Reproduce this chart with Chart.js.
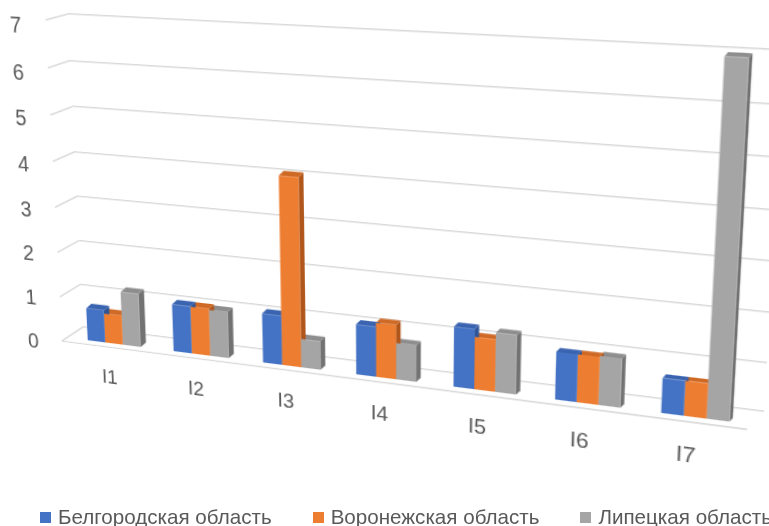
<!DOCTYPE html>
<html>
<head>
<meta charset="utf-8">
<script src="https://cdn.jsdelivr.net/npm/chart.js@4.4.1/dist/chart.umd.min.js"></script>
<style>
  html, body { margin: 0; padding: 0; background: #fff; }
  #stage { position: relative; width: 769px; height: 526px; overflow: hidden; background: #fff;
           font-family: "Liberation Sans", Arial, sans-serif; }
  .layer { position: absolute; left: 0; top: 0; transform-origin: 0 0; }
  #legend { position: absolute; left: 40px; top: 504px; display: flex; white-space: nowrap;
            color: #595959; font-size: 20.6px; line-height: 26px; }
  #legend .item { display: flex; align-items: center; margin-right: 41px; }
  #legend .box { width: 11px; height: 11px; margin-right: 7px; }
</style>
</head>
<body>
<div id="stage">
  <canvas id="wall" class="layer" width="760" height="390"></canvas>
  <canvas id="bars" class="layer" width="713" height="410"></canvas>
  <div id="legend"></div>
</div>
<script>
// ---- data ----
const categories = ['I1', 'I2', 'I3', 'I4', 'I5', 'I6', 'I7'];
const seriesNames = ['Белгородская область', 'Воронежская область', 'Липецкая область'];
const belgorod = [0.73, 1.05, 1.08, 1.08, 1.27, 0.99, 0.71];
const voronezh = [0.66, 1.04, 4.05, 1.16, 1.10, 0.99, 0.71];
const lipetsk  = [1.19, 1.02, 0.62, 0.78, 1.24, 1.01, 6.95];
const yTicks = [0, 1, 2, 3, 4, 5, 6, 7];

// ---- styling ----
const frontColors = ['#4472C4', '#ED7D31', '#A5A5A5'];
const topColors   = ['#3A64B0', '#CF6A26', '#8E8E8E'];
const sideColors  = ['#2F5597', '#B0561B', '#727272'];
const textColor = '#595959';
const gridColor = '#D9D9D9';
Chart.defaults.font.family = '"Liberation Sans", Arial, sans-serif';

// ---- perspective view of the 3-D box ----
// Each vertical plane (back wall, bar fronts, floor front edge) is described by
// its bottom line (category position u -> screen) and its vertical foreshortening.
const VP = { x: 392, y: 6725 };           // vanishing point of the vertical edges
const planes = {
  wall:  { p: 83,   q: 82.19, r: -0.01977, xA: 83, yA: 327, slope: 0.124,  w: -0.006663 },
  bars:  { p: 71.8, q: 82.14, r: -0.01976, xA: 85, yA: 340, slope: 0.1268, w: -0.0068 },
  front: { p: 62,   q: 83.09, r: -0.01977, xA: 62, yA: 341, slope: 0.129,  w: -0.00684 }
};
function project(pl, u, h) {
  const d = 1 + pl.r * u;
  const x0 = (pl.p + pl.q * u) / d;
  const y0 = pl.yA + pl.slope * (x0 - pl.xA);
  const c = pl.w / d;
  const y = (y0 + c * VP.y * h) / (1 + c * h);
  const x = x0 + (y - y0) * (VP.x - x0) / (VP.y - y0);
  return { x, y };
}

function solveLinear(A, b) {
  const n = b.length;
  const M = A.map((row, i) => row.concat([b[i]]));
  for (let c = 0; c < n; c++) {
    let piv = c;
    for (let r = c + 1; r < n; r++) if (Math.abs(M[r][c]) > Math.abs(M[piv][c])) piv = r;
    [M[c], M[piv]] = [M[piv], M[c]];
    for (let r = 0; r < n; r++) {
      if (r === c) continue;
      const f = M[r][c] / M[c][c];
      for (let k = c; k <= n; k++) M[r][k] -= f * M[c][k];
    }
  }
  return M.map((row, i) => row[n] / row[i]);
}
function homography(src, dst) {
  const A = [], b = [];
  for (let i = 0; i < 4; i++) {
    const { x, y } = src[i], X = dst[i].x, Y = dst[i].y;
    A.push([x, y, 1, 0, 0, 0, -x * X, -y * X]); b.push(X);
    A.push([0, 0, 0, x, y, 1, -x * Y, -y * Y]); b.push(Y);
  }
  const h = solveLinear(A, b);
  return [[h[0], h[1], h[2]], [h[3], h[4], h[5]], [h[6], h[7], 1]];
}
function inv3(m) {
  const [a, b, c] = m[0], [d, e, f] = m[1], [g, h, i] = m[2];
  const A = e * i - f * h, B = -(d * i - f * g), C = d * h - e * g;
  const det = a * A + b * B + c * C;
  return [[A / det, -(b * i - c * h) / det, (b * f - c * e) / det],
          [B / det, (a * i - c * g) / det, -(a * f - c * d) / det],
          [C / det, -(a * h - b * g) / det, (a * e - b * d) / det]];
}
function applyH(H, x, y) {
  const w = H[2][0] * x + H[2][1] * y + H[2][2];
  return { x: (H[0][0] * x + H[0][1] * y + H[0][2]) / w,
           y: (H[1][0] * x + H[1][1] * y + H[1][2]) / w };
}
function cssMatrix(H) {
  return `matrix3d(${H[0][0]},${H[1][0]},0,${H[2][0]},${H[0][1]},${H[1][1]},0,${H[2][1]},0,0,1,0,${H[0][2]},${H[1][2]},0,${H[2][2]})`;
}
// place a chart canvas so that its chart area lands on the given plane
function placeOnPlane(chart, plane) {
  const a = chart.chartArea;
  const ys = chart.scales.y;
  const n = chart.data.labels.length;
  const src = [{ x: a.left, y: a.top }, { x: a.right, y: a.top }, { x: a.right, y: a.bottom }, { x: a.left, y: a.bottom }];
  const dst = [project(plane, 0, ys.max), project(plane, n, ys.max), project(plane, n, ys.min), project(plane, 0, ys.min)];
  const H = homography(src, dst);
  chart.canvas.style.transform = cssMatrix(H);
  chart.$H = H;
  chart.$Hinv = inv3(H);
}

// ---- back wall: gridlines, side-wall segments and floor edge ----
const wallEdges = {
  id: 'wallEdges',
  afterDraw(chart) {
    if (!chart.$Hinv) return;
    const ctx = chart.ctx, ys = chart.scales.y, area = chart.chartArea;
    const n = chart.data.labels.length;
    const toCanvas = (p) => applyH(chart.$Hinv, p.x, p.y);
    ctx.save();
    ctx.strokeStyle = gridColor;
    ctx.lineWidth = 1.6;
    ctx.beginPath();
    yTicks.forEach(v => {
      const f = toCanvas(project(planes.front, 0, v));
      ctx.moveTo(area.left, ys.getPixelForValue(v));
      ctx.lineTo(f.x, f.y);
    });
    const f0 = toCanvas(project(planes.front, 0, 0));
    const f1 = toCanvas(project(planes.front, n, 0));
    ctx.moveTo(f0.x, f0.y);
    ctx.lineTo(f1.x, f1.y);
    ctx.stroke();
    ctx.restore();
  }
};

const wallChart = new Chart(document.getElementById('wall'), {
  type: 'bar',
  data: { labels: categories, datasets: [] },
  options: {
    responsive: false, animation: false, events: [],
    layout: { padding: { left: 40, right: 20, top: 10, bottom: 40 } },
    plugins: { legend: { display: false }, tooltip: { enabled: false } },
    scales: {
      x: { display: false },
      y: {
        min: 0, max: 7,
        afterBuildTicks: (s) => { s.ticks = yTicks.map(v => ({ value: v })); },
        ticks: { display: false },
        grid: { color: gridColor, lineWidth: 1.6, drawTicks: false },
        border: { display: false }
      }
    }
  },
  plugins: [wallEdges]
});

// ---- bars with top and side faces ----
const barFaces = {
  id: 'barFaces',
  beforeDatasetsDraw(chart) {
    const ctx = chart.ctx;
    const n = chart.data.labels.length;
    const metas = chart.data.datasets.map((_, i) => chart.getDatasetMeta(i));
    ctx.save();
    for (let i = 0; i < n; i++) {
      const t = i / (n - 1);
      const dx = 5.6 - 3 * t, dy = -(5 - 1.5 * t);
      for (let d = metas.length - 1; d >= 0; d--) {
        const el = metas[d].data[i];
        const { x, y, base, width } = el.getProps(['x', 'y', 'base', 'width'], true);
        const x0 = x - width / 2, x1 = x + width / 2;
        ctx.fillStyle = sideColors[d];
        ctx.beginPath();
        ctx.moveTo(x1, y); ctx.lineTo(x1 + dx, y + dy); ctx.lineTo(x1 + dx, base + dy); ctx.lineTo(x1, base);
        ctx.closePath(); ctx.fill();
        ctx.fillStyle = topColors[d];
        ctx.beginPath();
        ctx.moveTo(x0, y); ctx.lineTo(x1, y); ctx.lineTo(x1 + dx, y + dy); ctx.lineTo(x0 + dx, y + dy);
        ctx.closePath(); ctx.fill();
      }
    }
    ctx.restore();
  }
};

const seriesData = [belgorod, voronezh, lipetsk];
const barChart = new Chart(document.getElementById('bars'), {
  type: 'bar',
  data: {
    labels: categories,
    datasets: seriesNames.map((name, i) => ({
      label: name, data: seriesData[i], backgroundColor: frontColors[i], borderWidth: 0
    }))
  },
  options: {
    responsive: false, animation: false, events: [],
    layout: { padding: { left: 6, right: 18, top: 12, bottom: 4 } },
    datasets: { bar: { categoryPercentage: 0.62, barPercentage: 1 } },
    plugins: { legend: { display: false }, tooltip: { enabled: false } },
    scales: {
      x: {
        grid: { display: false, drawTicks: false }, border: { display: false },
        ticks: { color: textColor, font: { size: 19 }, padding: 22, labelOffset: -6 }
      },
      y: {
        min: 0, max: 7,
        afterBuildTicks: (s) => { s.ticks = yTicks.map(v => ({ value: v })); },
        grid: { display: false, drawTicks: false }, border: { display: false },
        ticks: { color: textColor, font: { size: 20.5 }, padding: 35, labelOffset: 8 }
      }
    }
  },
  plugins: [barFaces]
});

placeOnPlane(wallChart, planes.wall);
wallChart.draw();
placeOnPlane(barChart, planes.bars);

// ---- legend ----
const legend = document.getElementById('legend');
Chart.defaults.plugins.legend.labels.generateLabels(barChart).forEach(item => {
  const el = document.createElement('div');
  el.className = 'item';
  const box = document.createElement('span');
  box.className = 'box';
  box.style.background = item.fillStyle;
  const txt = document.createElement('span');
  txt.textContent = item.text;
  el.appendChild(box); el.appendChild(txt);
  legend.appendChild(el);
});
</script>
</body>
</html>
